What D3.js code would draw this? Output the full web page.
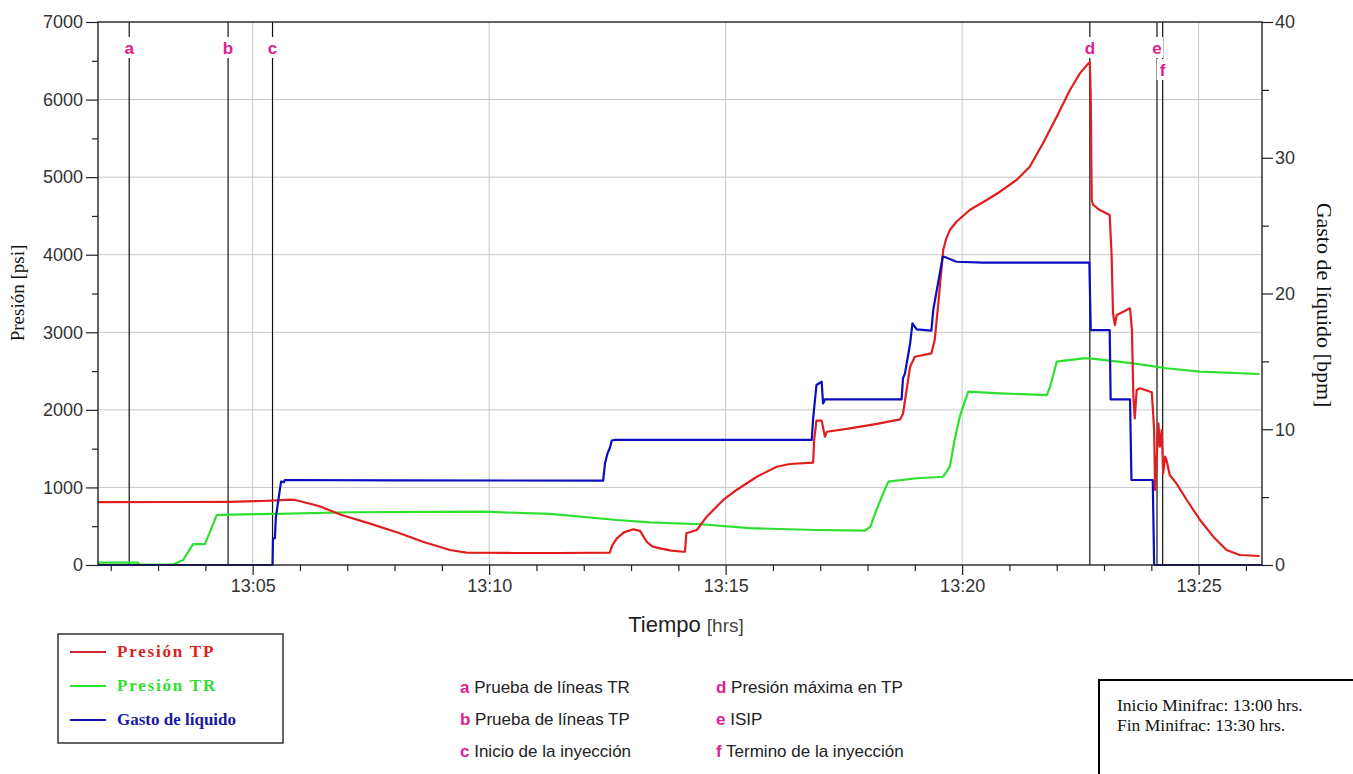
<!DOCTYPE html>
<html><head><meta charset="utf-8">
<script src="https://cdn.jsdelivr.net/npm/d3@7"></script>
<style>
html,body{margin:0;padding:0;background:#fff;}
svg{display:block;}
</style></head>
<body>
<svg id="chart" width="1353" height="774"></svg>
<script>
// ---- DATA (time in minutes after 13:00) ----
const presionTP = [
 [1.73,810],[3.5,812],[4.5,815],[5.2,825],[5.5,832],[5.8,842],[5.9,838],[6.4,760],[6.88,645],[7.5,530],
 [8.11,409],[8.6,300],[9.17,193],[9.52,159],[10.5,155],[11.5,155],[12.55,159],[12.60,250],[12.70,344],
 [12.85,420],[13.05,460],[13.19,440],[13.33,300],[13.45,240],[13.61,215],[13.85,185],[14.10,171],[14.14,171],
 [14.17,409],[14.39,451],[14.60,623],[14.95,838],[15.23,967],[15.66,1138],[16.08,1267],[16.36,1302],[16.85,1319],
 [16.87,1600],[16.92,1860],[17.03,1860],[17.10,1654],[17.14,1718],[17.63,1762],[18.2,1820],[18.69,1878],
 [18.75,1950],[18.90,2556],[19.00,2685],[19.35,2729],[19.42,2900],[19.49,3330],[19.60,4060],[19.66,4200],
 [19.74,4318],[19.88,4425],[20.16,4576],[20.52,4705],[20.80,4812],[21.15,4963],[21.43,5134],[21.71,5436],
 [22.00,5779],[22.28,6123],[22.49,6338],[22.67,6467],[22.70,6480],[22.72,5994],[22.74,4705],[22.77,4641],
 [22.91,4576],[23.12,4512],[23.16,4000],[23.19,3245],[23.23,3094],[23.27,3223],[23.55,3309],[23.59,3029],
 [23.62,2170],[23.65,1891],[23.69,2256],[23.76,2278],[24.01,2226],[24.06,1740],[24.08,967],[24.11,1311],
 [24.15,1827],[24.18,1525],[24.22,1740],[24.25,1182],[24.29,1396],[24.32,1353],[24.39,1160],[24.53,1053],
 [24.75,838],[25.03,580],[25.31,365],[25.59,193],[25.87,129],[26.29,116]
];
const presionTR = [
 [1.73,30],[2.575,30],[2.6,5],[3.315,5],[3.53,64],[3.74,270],[3.99,270],[4.17,537],[4.24,644],[4.58,650],
 [5.5,660],[7.06,680],[9.88,687],[11.29,660],[12.70,580],[13.40,550],[14.46,525],[15.51,475],[16.92,451],
 [17.95,442],[18.06,494],[18.16,666],[18.33,924],[18.44,1074],[19.04,1118],[19.60,1138],[19.74,1267],
 [19.84,1611],[19.95,1912],[20.02,2041],[20.13,2234],[20.80,2213],[21.79,2191],[21.86,2299],[22.00,2621],
 [22.56,2664],[22.70,2664],[23.62,2600],[24.32,2536],[25.03,2492],[26.29,2462]
];
const gastoLiquido = [
 [1.73,0],[5.42,0],[5.43,1.97],[5.47,1.97],[5.49,3.5],[5.60,6.14],[5.66,6.1],[5.68,6.26],[8,6.24],[12.41,6.21],
 [12.45,7.5],[12.50,8.2],[12.55,8.6],[12.59,9.16],[12.65,9.21],[16.82,9.21],[16.85,10.8],[16.92,13.26],
 [17.03,13.5],[17.06,11.9],[17.10,12.2],[18.72,12.2],[18.75,13.75],[18.79,14.1],[18.90,16.3],[18.95,17.8],
 [19.04,17.36],[19.35,17.26],[19.39,18.8],[19.49,20.75],[19.59,22.7],[19.62,22.7],[19.88,22.34],[20.45,22.27],
 [22.69,22.27],[22.72,17.3],[23.12,17.3],[23.14,12.2],[23.55,12.2],[23.58,6.26],[24.03,6.26],[24.06,0],[26.34,0]
];
const timeDomain = [1.73, 26.34];
const presionTicks = [0,1000,2000,3000,4000,5000,6000,7000];
const presionMinorTicks = [500,1500,2500,3500,4500,5500,6500];
const gastoTicks = [0,10,20,30,40];
const gastoMinorTicks = [5,15,25,35];
const timeMajorTicks = [5,10,15,20,25];
const timeMinorTicks = [2,3,4,6,7,8,9,11,12,13,14,16,17,18,19,21,22,23,24,26];
const eventLetters = ["a","b","c","d","e","f"];
const eventTimes = [2.39, 4.48, 5.42, 22.70, 24.12, 24.24];
const eventDescriptions = ["Prueba de líneas TR","Prueba de líneas TP","Inicio de la inyección",
  "Presión máxima en TP","ISIP","Termino de la inyección"];
const seriesNames = ["Presión TP","Presión TR","Gasto de líquido"];
const notes = ["Inicio Minifrac: 13:00 hrs.","Fin Minifrac: 13:30 hrs."];

// ---- LAYOUT ----
const svg = d3.select("#chart");
const L = 98, R = 1262, T = 22, B = 565;
const sans = "'Liberation Sans', Arial, sans-serif";
const serif = "'Liberation Serif', 'Times New Roman', serif";
const cRed = "#e01e1e", cGreen = "#2ee02e", cBlue = "#0c0cc0", cMag = "#e0208c";

svg.append("rect").attr("width",1353).attr("height",774).attr("fill","#fff");

const x = d3.scaleLinear().domain(timeDomain).range([L,R]);
const yP = d3.scaleLinear().domain([0,7000]).range([B,T]);
const yQ = d3.scaleLinear().domain([0,40]).range([B,T]);

// grid
const grid = svg.append("g").attr("stroke","#c8c8c8").attr("stroke-width",1);
grid.selectAll("line.h").data(presionTicks.filter(v=>v>0&&v<7000)).join("line")
  .attr("x1",L).attr("x2",R).attr("y1",d=>yP(d)).attr("y2",d=>yP(d));
grid.selectAll("line.v").data(timeMajorTicks).join("line")
  .attr("x1",d=>x(d)).attr("x2",d=>x(d)).attr("y1",T).attr("y2",B);

// axes
function styleAxis(g){
  g.select(".domain").remove();
  g.selectAll(".tick line").attr("stroke","#222").attr("stroke-width",1.2);
  g.selectAll(".tick text").attr("fill","#333").style("font-family",sans).style("font-size","18px");
}
svg.append("g").attr("transform",`translate(${L},0)`)
  .call(d3.axisLeft(yP).tickValues(presionTicks).tickSize(12).tickPadding(3).tickFormat(d3.format("d"))).call(styleAxis);
svg.append("g").attr("transform",`translate(${L},0)`)
  .call(d3.axisLeft(yP).tickValues(presionMinorTicks).tickSize(6).tickFormat("")).call(styleAxis);
svg.append("g").attr("transform",`translate(${R},0)`)
  .call(d3.axisRight(yQ).tickValues(gastoTicks).tickSize(11).tickPadding(2).tickFormat(d3.format("d"))).call(styleAxis);
svg.append("g").attr("transform",`translate(${R},0)`)
  .call(d3.axisRight(yQ).tickValues(gastoMinorTicks).tickSize(7).tickFormat("")).call(styleAxis);
svg.append("g").attr("transform",`translate(0,${B})`)
  .call(d3.axisBottom(x).tickValues(timeMajorTicks).tickSize(10).tickPadding(4)
    .tickFormat(d=>"13:"+String(d).padStart(2,"0"))).call(styleAxis);
svg.append("g").attr("transform",`translate(0,${B})`)
  .call(d3.axisBottom(x).tickValues(timeMinorTicks).tickSize(6).tickFormat("")).call(styleAxis);

// event lines
const ev = svg.append("g");
eventTimes.forEach((t,i)=>{
  const ex = x(t);
  ev.append("line").attr("x1",ex).attr("x2",ex).attr("y1",T).attr("y2",B)
    .attr("stroke","#111").attr("stroke-width",1.2);
});

// series
const line = (ys)=>d3.line().x(d=>x(d[0])).y(d=>ys(d[1]));
const plot = svg.append("g").attr("fill","none").attr("stroke-width",2.2).attr("stroke-linejoin","round");
plot.append("path").datum(presionTR).attr("d",line(yP)).attr("stroke",cGreen);
plot.append("path").datum(presionTP).attr("d",line(yP)).attr("stroke",cRed);
plot.append("path").datum(gastoLiquido).attr("d",line(yQ)).attr("stroke",cBlue);

// event labels
let prevX = -100;
eventTimes.forEach((t,i)=>{
  const ex = x(t);
  const ly = (ex - prevX < 10) ? 70 : 48;
  prevX = ex;
  ev.append("rect").attr("x",ex-6).attr("y",ly-11).attr("width",12).attr("height",21).attr("fill","#fff");
  ev.append("text").attr("x",ex).attr("y",ly).attr("dy","0.35em").attr("text-anchor","middle")
    .style("font-family",sans).style("font-size","17px").style("font-weight","bold")
    .attr("fill",cMag).text(eventLetters[i]);
});

// frame
svg.append("rect").attr("x",L).attr("y",T).attr("width",R-L).attr("height",B-T)
  .attr("fill","none").attr("stroke","#222").attr("stroke-width",1.4);

// axis titles
svg.append("text").attr("transform","translate(24,293) rotate(-90)").attr("text-anchor","middle")
  .style("font-family",serif).style("font-size","19px").attr("fill","#111").text("Presión [psi]");
svg.append("text").attr("transform","translate(1317,305) rotate(90)").attr("text-anchor","middle")
  .style("font-family",serif).style("font-size","22px").attr("fill","#111").text("Gasto de líquido [bpm]");
const xt = svg.append("text").attr("x",686).attr("y",632).attr("text-anchor","middle")
  .style("font-family",sans).attr("fill","#222");
xt.append("tspan").style("font-size","22px").text("Tiempo ");
xt.append("tspan").style("font-size","19px").attr("fill","#444").text("[hrs]");

// series legend
const lg = svg.append("g");
lg.append("rect").attr("x",58).attr("y",634).attr("width",225).attr("height",109)
  .attr("fill","#fff").attr("stroke","#333").attr("stroke-width",1.5);
const legColors = ["#cc2a2a", cGreen, "#1010b0"];
const legText = ["#dd2020","#33dd33","#1a1aa0"];
const legY = [652, 686, 720];
seriesNames.forEach((n,i)=>{
  lg.append("line").attr("x1",70).attr("x2",106).attr("y1",legY[i]).attr("y2",legY[i])
    .attr("stroke",legColors[i]).attr("stroke-width",2.2);
  lg.append("text").attr("x",117).attr("y",legY[i]).attr("dy","0.32em")
    .style("font-family",serif).style("font-size","17px").style("font-weight","bold")
    .style("letter-spacing", i<2 ? "1.8px" : "0px")
    .attr("fill",legText[i]).text(n);
});

// event legend
const el = svg.append("g").style("font-family",sans).style("font-size","17px");
eventLetters.forEach((l,i)=>{
  const col = Math.floor(i/3), row = i%3;
  const lx = col===0 ? 460 : 716;
  const ly = 693 + row*32;
  const t = el.append("text").attr("x",lx).attr("y",ly);
  t.append("tspan").style("font-weight","bold").attr("fill",cMag).text(l);
  t.append("tspan").attr("fill","#222").text(" "+eventDescriptions[i]);
});

// notes box
svg.append("rect").attr("x",1099).attr("y",680).attr("width",300).attr("height",150)
  .attr("fill","#fff").attr("stroke","#000").attr("stroke-width",2);
notes.forEach((n,i)=>{
  svg.append("text").attr("x",1117).attr("y",711+i*20)
    .style("font-family",serif).style("font-size","17.5px").attr("fill","#111").text(n);
});
</script>
</body></html>
